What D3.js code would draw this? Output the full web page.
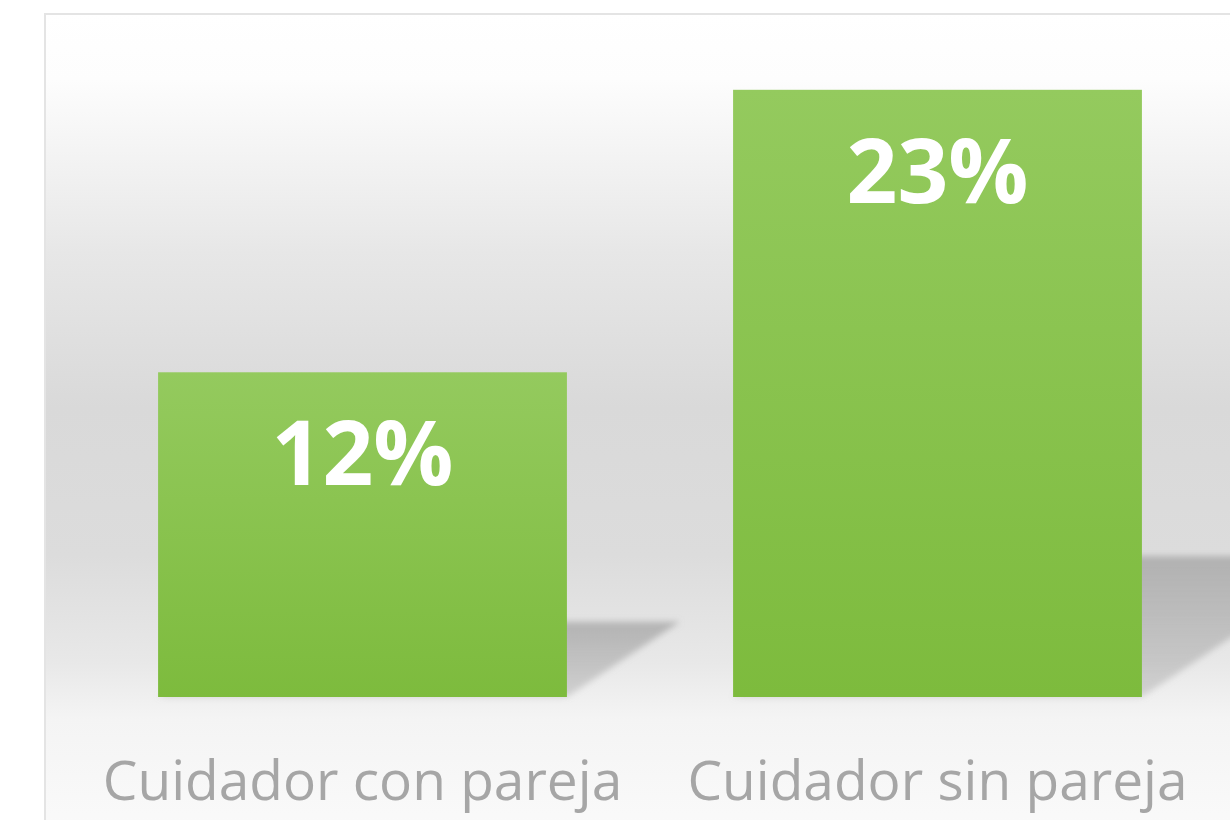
<!DOCTYPE html>
<html>
<head>
<meta charset="utf-8">
<script src="https://cdn.jsdelivr.net/npm/d3@7/dist/d3.min.js"></script>
<style>
  body { margin: 0; background: #ffffff; }
  svg { display: block; }
</style>
</head>
<body>
<div id="chart-area"></div>
<script>
/*
*    bar chart - cuidador con / sin pareja
*/

var categories = ["Cuidador con pareja", "Cuidador sin pareja"];
var values = [12.3, 23.0];

var width = 1230;
var height = 820;

var svg = d3.select("#chart-area").append("svg")
.attr("width", width)
.attr("height", height)

var defs = svg.append("defs")

// background gradient of the chart area
var bgGrad = defs.append("linearGradient")
.attr("id", "bg-grad")
.attr("x1", 0).attr("y1", 0).attr("x2", 0).attr("y2", 1)
var bgStops = [[0, "#ffffff"], [0.08, "#fdfdfd"], [0.29, "#e7e7e7"], [0.48, "#d9d9d9"],
  [0.66, "#dcdcdc"], [0.79, "#e8e8e8"], [0.86, "#f4f4f4"], [1, "#fafafa"]]
bgStops.forEach(s => {
	bgGrad.append("stop").attr("offset", s[0]).attr("stop-color", s[1])
})

// bar gradient
var barGrad = defs.append("linearGradient")
.attr("id", "bar-grad")
.attr("x1", 0).attr("y1", 0).attr("x2", 0).attr("y2", 1)
barGrad.append("stop").attr("offset", 0).attr("stop-color", "#94ca5e")
barGrad.append("stop").attr("offset", 1).attr("stop-color", "#7dbb3d")

// shadow gradient + blur
var shGrad = defs.append("linearGradient")
.attr("id", "shadow-grad")
.attr("x1", 0).attr("y1", 0).attr("x2", 0).attr("y2", 1)
shGrad.append("stop").attr("offset", 0).attr("stop-color", "#9a9a9a").attr("stop-opacity", 0.65)
shGrad.append("stop").attr("offset", 1).attr("stop-color", "#9a9a9a").attr("stop-opacity", 0.35)

defs.append("filter")
.attr("id", "blur")
.attr("x", "-20%").attr("y", "-20%").attr("width", "140%").attr("height", "140%")
.append("feGaussianBlur")
.attr("stdDeviation", 3)

// chart area
svg.append("rect")
.attr("x", 45)
.attr("y", 14)
.attr("width", 1200)
.attr("height", 820)
.attr("fill", "url(#bg-grad)")
.attr("stroke", "#e4e4e4")
.attr("stroke-width", 2)

var x = d3.scaleBand()
.domain(categories)
.range([75, 1225])
.paddingInner(0.289)
.paddingOuter(0.1445)

var y = d3.scaleLinear()
.domain([0, 25])
.range([697, 37])

var g = svg.append("g")

// perspective shadows behind the bars
g.selectAll(".shadow")
.data(values)
.enter().append("polygon")
.attr("class", "shadow")
.attr("fill", "url(#shadow-grad)")
.attr("filter", "url(#blur)")
.attr("points", (d, i) => {
	var x0 = x(categories[i])
	var x1 = x0 + x.bandwidth()
	var base = y(0)
	var h = (y(0) - y(d)) * 0.232
	var dx = h * 1.5
	return [[x0, base], [x0 + dx, base - h], [x1 + dx, base - h], [x1, base]].join(" ")
})

// bars
g.selectAll(".bar")
.data(values)
.enter().append("rect")
.attr("class", "bar")
.attr("x", (d, i) => x(categories[i]))
.attr("y", d => y(d))
.attr("width", x.bandwidth())
.attr("height", d => y(0) - y(d))
.attr("fill", "url(#bar-grad)")

// value labels
g.selectAll(".value")
.data(values)
.enter().append("text")
.attr("class", "value")
.attr("x", (d, i) => x(categories[i]) + x.bandwidth() / 2)
.attr("y", d => y(d) + 113)
.attr("text-anchor", "middle")
.attr("font-family", "'Open Sans', sans-serif")
.attr("font-weight", "bold")
.attr("font-size", "89px")
.style("fill", "#ffffff")
.text(d => d3.format(".0f")(d) + "%")

// category labels
g.selectAll(".cat")
.data(categories)
.enter().append("text")
.attr("class", "cat")
.attr("x", d => x(d) + x.bandwidth() / 2)
.attr("y", 800)
.attr("text-anchor", "middle")
.attr("font-family", "'Open Sans', sans-serif")
.attr("font-size", "55px")
.style("fill", "#a6a6a6")
.text(d => d)
</script>
</body>
</html>
